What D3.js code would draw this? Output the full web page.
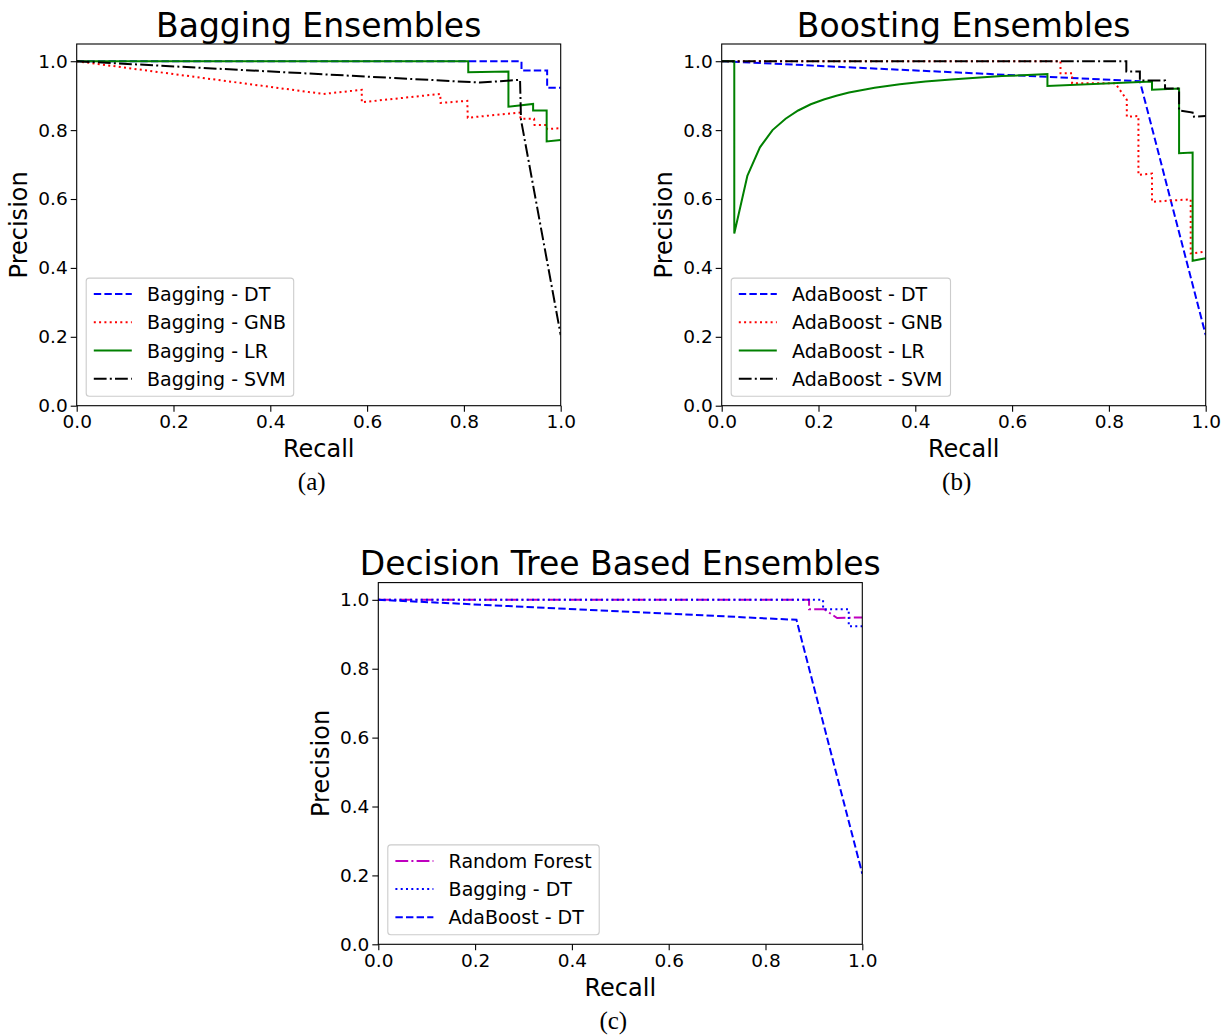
<!DOCTYPE html>
<html><head><meta charset="utf-8">
<script src="https://cdn.jsdelivr.net/npm/d3@7"></script>
<style>body{margin:0;background:#fff} svg{display:block}</style>
</head><body>
<svg id="chart" width="1229" height="1036"></svg>
<script>
// ---------- data ----------
const axisTicks = [0.0, 0.2, 0.4, 0.6, 0.8, 1.0];

// (a) Bagging ensembles
const bagDT_recall    = [0, 0.809, 0.919, 0.919, 0.972, 0.972, 1.0];
const bagDT_precision = [1.0, 1.0, 1.0, 0.973, 0.973, 0.923, 0.923];
const bagGNB_recall    = [0, 0.510, 0.589, 0.589, 0.751, 0.752, 0.807, 0.808, 0.916, 0.917, 0.945, 0.946, 0.971, 0.972, 1.0];
const bagGNB_precision = [1.0, 0.905, 0.917, 0.881, 0.905, 0.879, 0.885, 0.836, 0.851, 0.833, 0.833, 0.815, 0.815, 0.803, 0.806];
const bagLR_recall    = [0, 0.809, 0.809, 0.892, 0.892, 0.943, 0.943, 0.971, 0.971, 1.0];
const bagLR_precision = [1.0, 1.0, 0.968, 0.970, 0.868, 0.876, 0.857, 0.857, 0.767, 0.771];
const bagSVM_recall    = [0, 0.833, 0.916, 0.918, 1.0];
const bagSVM_precision = [1.0, 0.938, 0.946, 0.830, 0.205];

// (b) Boosting ensembles
const adaDT_recall    = [0, 0.864, 1.0];
const adaDT_precision = [1.0, 0.942, 0.205];
const adaGNB_recall    = [0, 0.700, 0.700, 0.724, 0.724, 0.813, 0.837, 0.837, 0.861, 0.861, 0.889, 0.889, 0.969, 0.969, 1.0];
const adaGNB_precision = [1.0, 1.0, 0.965, 0.965, 0.936, 0.936, 0.888, 0.839, 0.841, 0.670, 0.674, 0.592, 0.599, 0.442, 0.447];
const adaLR_recall    = [0, 0.026, 0.026, 0.053, 0.079, 0.105, 0.132, 0.158, 0.184, 0.211, 0.237, 0.263, 0.316, 0.368, 0.421, 0.474, 0.526, 0.579, 0.632, 0.673, 0.673, 0.889, 0.889, 0.945, 0.945, 0.973, 0.973, 1.0];
const adaLR_precision = [1.0, 1.0, 0.50, 0.667, 0.75, 0.80, 0.833, 0.857, 0.875, 0.889, 0.90, 0.909, 0.923, 0.933, 0.941, 0.947, 0.952, 0.957, 0.960, 0.963, 0.928, 0.941, 0.917, 0.921, 0.733, 0.735, 0.421, 0.428];
const adaSVM_recall    = [0, 0.836, 0.836, 0.864, 0.864, 0.916, 0.916, 0.945, 0.945, 0.973, 0.973, 1.0];
const adaSVM_precision = [1.0, 1.0, 0.970, 0.970, 0.944, 0.944, 0.921, 0.921, 0.857, 0.851, 0.839, 0.841];

// (c) Decision tree based ensembles
const rf_recall    = [0, 0.890, 0.890, 0.921, 0.948, 1.0];
const rf_precision = [1.0, 1.0, 0.973, 0.973, 0.947, 0.949];

// ---------- styles ----------
const DASHED = "7.4,3.2", DOTTED = "2,3.3", DASHDOT = "12.8,3.2,2,3.2", SOLID = null;
const FONT = "'DejaVu Sans', sans-serif";

const panels = [
  { left: 76.7, bottom: 405.7, title: "Bagging Ensembles", caption: "(a)",
    series: [
      { name: "Bagging - DT",  r: bagDT_recall,  p: bagDT_precision,  color: "#0000ff", dash: DASHED },
      { name: "Bagging - GNB", r: bagGNB_recall, p: bagGNB_precision, color: "#ff0000", dash: DOTTED },
      { name: "Bagging - LR",  r: bagLR_recall,  p: bagLR_precision,  color: "#008000", dash: SOLID },
      { name: "Bagging - SVM", r: bagSVM_recall, p: bagSVM_precision, color: "#000000", dash: DASHDOT }
    ]},
  { left: 721.7, bottom: 405.7, title: "Boosting Ensembles", caption: "(b)",
    series: [
      { name: "AdaBoost - DT",  r: adaDT_recall,  p: adaDT_precision,  color: "#0000ff", dash: DASHED },
      { name: "AdaBoost - GNB", r: adaGNB_recall, p: adaGNB_precision, color: "#ff0000", dash: DOTTED },
      { name: "AdaBoost - LR",  r: adaLR_recall,  p: adaLR_precision,  color: "#008000", dash: SOLID },
      { name: "AdaBoost - SVM", r: adaSVM_recall, p: adaSVM_precision, color: "#000000", dash: DASHDOT }
    ]},
  { left: 378.3, bottom: 944.3, title: "Decision Tree Based Ensembles", caption: "(c)",
    series: [
      { name: "Random Forest", r: rf_recall,    p: rf_precision,    color: "#bf00bf", dash: DASHDOT },
      { name: "Bagging - DT",  r: bagDT_recall, p: bagDT_precision, color: "#0000ff", dash: DOTTED },
      { name: "AdaBoost - DT", r: adaDT_recall, p: adaDT_precision, color: "#0000ff", dash: DASHED }
    ]}
];

const W = 484, H = 361.7;
const svg = d3.select("#chart");
const fmt = d3.format(".1f");

panels.forEach((pn, i) => {
  const x = d3.scaleLinear().domain([0, 1]).range([pn.left, pn.left + W]);
  const y = d3.scaleLinear().domain([0, 1.05]).range([pn.bottom, pn.bottom - H]);
  const g = svg.append("g");
  const top = pn.bottom - H;

  const clipId = "clip" + i;
  svg.append("clipPath").attr("id", clipId).append("rect")
    .attr("x", pn.left).attr("y", top).attr("width", W).attr("height", H);

  // lines
  const line = d3.line().x(d => x(d[0])).y(d => y(d[1]));
  const lg = g.append("g").attr("clip-path", `url(#${clipId})`);
  pn.series.forEach(s => {
    lg.append("path").datum(d3.zip(s.r, s.p))
      .attr("d", line).attr("fill", "none")
      .attr("stroke", s.color).attr("stroke-width", 2)
      .attr("stroke-dasharray", s.dash)
      .attr("stroke-linejoin", "miter").attr("stroke-linecap", "butt");
  });

  // axes
  const xa = g.append("g").attr("transform", `translate(0,${pn.bottom})`)
    .call(d3.axisBottom(x).tickValues(axisTicks).tickFormat(fmt).tickSize(6).tickPadding(3.5));
  const ya = g.append("g").attr("transform", `translate(${pn.left},0)`)
    .call(d3.axisLeft(y).tickValues(axisTicks).tickFormat(fmt).tickSize(6).tickPadding(3));
  [xa, ya].forEach(a => {
    a.select(".domain").remove();
    a.selectAll(".tick line").attr("stroke", "#000").attr("stroke-width", 1.1);
    a.selectAll(".tick text").attr("fill", "#000").style("font-family", FONT).style("font-size", "18.5px");
  });

  // frame
  g.append("rect").attr("x", pn.left).attr("y", top).attr("width", W).attr("height", H)
    .attr("fill", "none").attr("stroke", "#000").attr("stroke-width", 1.1);

  // legend
  const fs = 19, n = pn.series.length;
  const legBottom = pn.bottom - 9.5;
  const leg = g.append("g");
  const box = leg.append("rect");
  const hx0 = pn.left + 9.5 + 7.6;
  let maxW = 0;
  pn.series.forEach((s, k) => {
    const cy = legBottom - 17.5 - (n - 1 - k) * 28.2;
    leg.append("line").attr("x1", hx0).attr("x2", hx0 + 38).attr("y1", cy).attr("y2", cy)
      .attr("stroke", s.color).attr("stroke-width", 2).attr("stroke-dasharray", s.dash);
    const t = leg.append("text").attr("x", hx0 + 38 + 15.2).attr("y", cy + 7)
      .style("font-family", FONT).style("font-size", fs + "px").attr("fill", "#000").text(s.name);
    maxW = Math.max(maxW, t.node().getComputedTextLength());
  });
  const firstCy = legBottom - 17.5 - (n - 1) * 28.2;
  box.attr("x", pn.left + 9.5).attr("y", firstCy - 16)
    .attr("width", 7.6 + 38 + 15.2 + maxW + 7.6).attr("height", legBottom - (firstCy - 16))
    .attr("rx", 3).attr("fill", "#fff").attr("fill-opacity", 0.8)
    .attr("stroke", "#cccccc").attr("stroke-width", 1.1);

  const cx = pn.left + W / 2;
  // title
  g.append("text").attr("x", cx).attr("y", top - 7.5).attr("text-anchor", "middle")
    .style("font-family", FONT).style("font-size", "33px").attr("fill", "#000").text(pn.title);
  // x label
  g.append("text").attr("x", cx).attr("y", pn.bottom + 51.3).attr("text-anchor", "middle")
    .style("font-family", FONT).style("font-size", "24px").attr("fill", "#000").text("Recall");
  // y label
  g.append("text").attr("transform", `translate(${pn.left - 49.5},${pn.bottom - H / 2}) rotate(-90)`)
    .attr("text-anchor", "middle")
    .style("font-family", FONT).style("font-size", "24px").attr("fill", "#000").text("Precision");
  // caption
  g.append("text").attr("x", cx - 7).attr("y", pn.bottom + 84.3).attr("text-anchor", "middle")
    .style("font-family", "'Liberation Serif', 'DejaVu Serif', serif").style("font-size", "25px")
    .attr("fill", "#000").text(pn.caption);
});
</script>
</body></html>
